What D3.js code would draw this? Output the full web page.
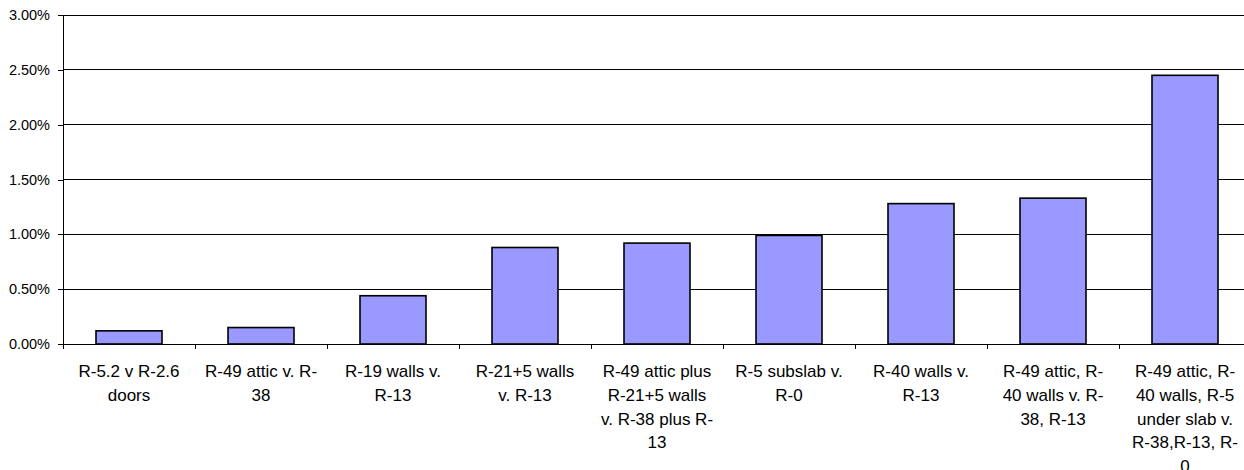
<!DOCTYPE html>
<html>
<head>
<meta charset="utf-8">
<script src="https://cdn.jsdelivr.net/npm/d3@7/dist/d3.min.js"></script>
<style>
  html, body { margin: 0; padding: 0; background: #fff; }
  svg { display: block; }
  text { font-family: "Liberation Sans", Arial, sans-serif; fill: #000; }
</style>
</head>
<body>
<svg id="chart" width="1244" height="470"></svg>
<script>
const categories = [
  "R-5.2 v R-2.6 doors",
  "R-49 attic v. R-38",
  "R-19 walls v. R-13",
  "R-21+5 walls v. R-13",
  "R-49 attic plus R-21+5 walls v. R-38 plus R-13",
  "R-5 subslab v. R-0",
  "R-40 walls v. R-13",
  "R-49 attic, R-40 walls v. R-38, R-13",
  "R-49 attic, R-40 walls, R-5 under slab v. R-38,R-13, R-0"
];
const tickLabelLines = [
  ["R-5.2 v R-2.6", "doors"],
  ["R-49 attic v. R-", "38"],
  ["R-19 walls v.", "R-13"],
  ["R-21+5 walls", "v. R-13"],
  ["R-49 attic plus", "R-21+5 walls", "v. R-38 plus R-", "13"],
  ["R-5 subslab v.", "R-0"],
  ["R-40 walls v.", "R-13"],
  ["R-49 attic, R-", "40 walls v. R-", "38, R-13"],
  ["R-49 attic, R-", "40 walls, R-5", "under slab v.", "R-38,R-13, R-", "0"]
];
const values = [0.0012, 0.0015, 0.0044, 0.0088, 0.0092, 0.0099, 0.0128, 0.0133, 0.0245];
const yTicks = [0, 0.005, 0.01, 0.015, 0.02, 0.025, 0.03];

const svg = d3.select("#chart");
const mLeft = 63, mTop = 15, mBottom = 344, bandStep = 132;
const mRight = mLeft + bandStep * categories.length;

const x = d3.scaleBand().domain(categories).range([mLeft, mRight])
  .paddingInner(0.5).paddingOuter(0.25);
const xEdges = d3.scaleLinear().domain([0, categories.length]).range([mLeft, mRight]);
const y = d3.scaleLinear().domain([0, 0.03]).range([mBottom, mTop]);

// gridlines
svg.append("g").selectAll("line").data(yTicks.filter(d => d > 0)).join("line")
  .attr("x1", mLeft).attr("x2", mRight)
  .attr("y1", d => y(d)).attr("y2", d => y(d))
  .attr("stroke", "#000").attr("stroke-width", 1)
  .attr("shape-rendering", "crispEdges");

// bars
svg.append("g").selectAll("rect").data(values).join("rect")
  .attr("x", (d, i) => x(categories[i]))
  .attr("y", d => y(d))
  .attr("width", x.bandwidth())
  .attr("height", d => mBottom - y(d))
  .attr("fill", "#9999ff")
  .attr("stroke", "#000")
  .attr("stroke-width", 1.6);

// y axis
const yAxis = svg.append("g").attr("transform", `translate(${mLeft},0)`)
  .call(d3.axisLeft(y).tickValues(yTicks).tickFormat(d3.format(".2%"))
    .tickSize(5).tickSizeOuter(0).tickPadding(8));
yAxis.selectAll("path, line").attr("stroke", "#000").attr("shape-rendering", "crispEdges");
yAxis.selectAll("text").attr("font-size", "14.5px")
  .attr("font-family", "'Liberation Sans', Arial, sans-serif");

// x axis
const xAxis = svg.append("g").attr("transform", `translate(0,${mBottom})`)
  .call(d3.axisBottom(xEdges).tickValues(d3.range(categories.length + 1))
    .tickFormat("").tickSize(5).tickSizeOuter(0));
xAxis.selectAll("path, line").attr("stroke", "#000").attr("shape-rendering", "crispEdges");

// category labels
const lab = svg.append("g").selectAll("text").data(categories).join("text")
  .attr("text-anchor", "middle")
  .attr("font-size", "17px")
  .attr("transform", d => `translate(${x(d) + x.bandwidth() / 2},377.3)`);
lab.each(function(d, i) {
  d3.select(this).selectAll("tspan").data(tickLabelLines[i]).join("tspan")
    .attr("x", 0).attr("y", (t, j) => j * 23.7).text(t => t);
});
</script>
</body>
</html>
